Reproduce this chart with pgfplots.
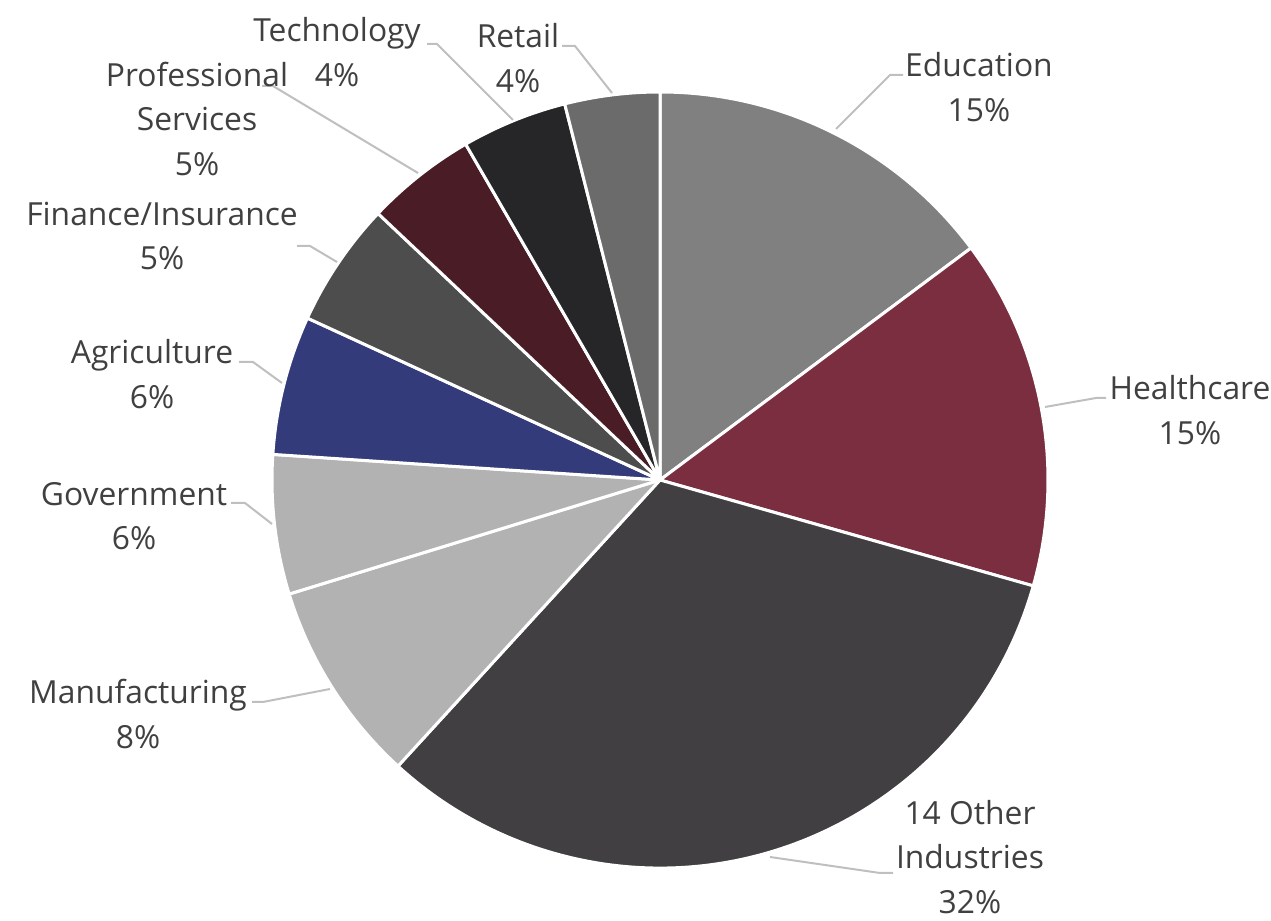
\documentclass[border=0pt]{standalone}
\usepackage{pgfplots}
\pgfplotsset{compat=1.18}
\usepackage{pgfplotstable}
\usepackage{fontspec}
\setmainfont{Open Sans}

\definecolor{cEdu}{RGB}{128,128,128}
\definecolor{cHea}{RGB}{122,46,64}
\definecolor{cOth}{RGB}{65,63,66}
\definecolor{cMan}{RGB}{178,178,178}
\definecolor{cGov}{RGB}{178,178,178}
\definecolor{cAgr}{RGB}{52,59,122}
\definecolor{cFin}{RGB}{77,77,77}
\definecolor{cPro}{RGB}{74,28,38}
\definecolor{cTec}{RGB}{38,38,40}
\definecolor{cRet}{RGB}{107,107,107}
\definecolor{txt}{RGB}{64,64,64}
\definecolor{lead}{RGB}{191,191,191}

% share of each industry, clockwise from 12 o'clock
\pgfplotstableread{
sector        value  col
Education     14.8   cEdu
Healthcare    14.6   cHea
Other         32.4   cOth
Manufacturing 8.45   cMan
Government    5.8    cGov
Agriculture   5.8    cAgr
Finance       5.2    cFin
Professional  4.6    cPro
Technology    4.4    cTec
Retail        3.95   cRet
}\piedata

\begin{document}
\begin{tikzpicture}[
  lbl/.style={align=center, text=txt, inner sep=0pt,
    font=\fontsize{15.9pt}{22.2pt}\selectfont},
  ld/.style={draw=lead, line width=1pt}]
\begin{axis}[width=635.5pt, height=460.5pt, scale only axis,
  xmin=0, xmax=1271, ymin=0, ymax=921, hide axis, clip=false]

\def\cum{0}
\pgfplotsforeachungrouped \i in {0,...,9}{%
  \pgfplotstablegetelem{\i}{value}\of\piedata \let\sval\pgfplotsretval
  \pgfplotstablegetelem{\i}{col}\of\piedata \let\slicecol\pgfplotsretval
  \pgfmathsetmacro\aA{90-3.6*\cum}
  \pgfmathsetmacro\aB{90-3.6*(\cum+\sval)}
  \edef\temp{\noexpand\fill[\slicecol, draw=white, line width=1.5pt,
    line join=round] (axis cs:660,441) -- ++(\aA:194pt)
    arc[start angle=\aA, end angle=\aB, radius=194pt] -- cycle;}
  \temp
  \pgfmathsetmacro\cum{\cum+\sval}
}

% leader lines
\draw[ld] (axis cs:903,846) -- (axis cs:890,846) -- (axis cs:836,792);
\draw[ld] (axis cs:1106,523) -- (axis cs:1096,523) -- (axis cs:1045,514);
\draw[ld] (axis cs:893,48) -- (axis cs:880,48) -- (axis cs:770,64);
\draw[ld] (axis cs:252,219) -- (axis cs:263,219) -- (axis cs:330,232);
\draw[ld] (axis cs:231,418) -- (axis cs:245,418) -- (axis cs:272,397);
\draw[ld] (axis cs:239,559) -- (axis cs:253,559) -- (axis cs:282,538);
\draw[ld] (axis cs:297,675) -- (axis cs:310,675) -- (axis cs:337,659);
\draw[ld] (axis cs:262,835) -- (axis cs:273,835) -- (axis cs:418,748);
\draw[ld] (axis cs:427,877) -- (axis cs:437,877) -- (axis cs:513,801);
\draw[ld] (axis cs:562,875) -- (axis cs:575,875) -- (axis cs:612,828);

% labels
\node[lbl] at (axis cs:979,834) {Education\\15\%};
\node[lbl] at (axis cs:1190,511) {Healthcare\\15\%};
\node[lbl] at (axis cs:970,64) {14 Other\\Industries\\32\%};
\node[lbl] at (axis cs:138,207) {Manufacturing\\8\%};
\node[lbl] at (axis cs:134,405) {Government\\6\%};
\node[lbl] at (axis cs:152,547) {Agriculture\\6\%};
\node[lbl] at (axis cs:162,685) {Finance/Insurance\\5\%};
\node[lbl] at (axis cs:197,802) {Professional\\Services\\5\%};
\node[lbl] at (axis cs:337,869) {Technology\\4\%};
\node[lbl] at (axis cs:518,863) {Retail\\4\%};

\coordinate (bl) at (axis cs:0,0);
\coordinate (tr) at (axis cs:1271,921);
\end{axis}
\pgfresetboundingbox
\path[use as bounding box] (bl) rectangle (tr);
\end{tikzpicture}
\end{document}
